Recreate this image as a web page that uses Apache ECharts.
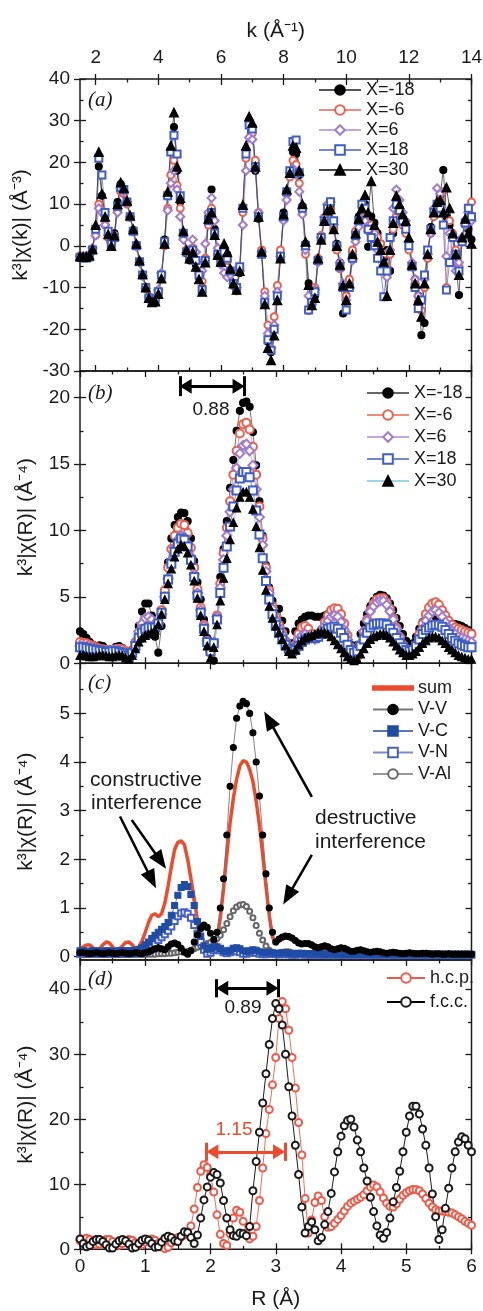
<!DOCTYPE html>
<html>
<head>
<meta charset="utf-8">
<script src="https://cdn.jsdelivr.net/npm/echarts@6.0.0/dist/echarts.min.js"></script>
<style>
  html, body { margin: 0; padding: 0; background: #fff; }
  #chart { width: 483px; height: 1311px; }
</style>
</head>
<body>
<div id="chart"></div>
<script>
// tick labels
const kTicks = [2, 4, 6, 8, 10, 12, 14];
const kMinorTicks = [3, 5, 7, 9, 11, 13];
const rTicks = [0, 1, 2, 3, 4, 5, 6];
const rMinorTicks = [0.5, 1.5, 2.5, 3.5, 4.5, 5.5];
const yTicksA = [-30, -20, -10, 0, 10, 20, 30, 40];
const yMinorA = [-25, -15, -5, 5, 15, 25, 35];
const yTicksB = [0, 5, 10, 15, 20];
const yMinorB = [2.5, 7.5, 12.5, 17.5];
const yTicksC = [0, 1, 2, 3, 4, 5];
const yMinorC = [0.5, 1.5, 2.5, 3.5, 4.5, 5.5];
const yTicksD = [0, 10, 20, 30, 40];
const yMinorD = [5, 15, 25, 35];

// sampling grids: k = 1.5 .. 14 (step 0.1), R = 0 .. 6 (step 0.05)
const kGrid = Array.from({ length: 126 }, (_, i) => +(1.5 + i * 0.1).toFixed(1));
const rGrid = Array.from({ length: 121 }, (_, i) => +(i * 0.05).toFixed(2));

// (a) k^3 chi(k)
const aM18 = [-2.5,-2.6,-2.6,-2.3,-0.8,3.8,19.0,12.0,6.5,2.0,
  0.3,3.0,10.5,14.8,13.5,10.5,7.0,3.8,0.3,-3.8,
  -7.0,-10.3,-12.8,-13.6,-13.2,-11.2,-7.0,1.5,12.0,22.5,
  28.5,18.0,10.5,3.0,-1.8,-3.5,-2.5,-4.5,-7.5,-10.0,
  -3.0,7.0,13.5,4.0,-2.0,-3.5,-0.5,-2.0,-6.0,-9.5,
  -10.8,-6.5,9.0,23.0,29.5,28.0,18.0,6.5,-2.0,-13.5,
  -23.0,-25.5,-20.0,-12.0,-2.0,8.0,13.0,17.0,22.5,22.0,
  17.0,9.5,0.5,-9.0,-13.5,-12.0,-3.5,2.0,6.5,9.5,
  9.0,4.5,0.5,-4.0,-16.2,-12.0,-8.5,-1.5,3.5,7.0,
  9.5,10.0,-0.2,7.0,5.5,3.0,0.5,-3.0,-1.0,-6.0,
  3.0,9.0,8.0,6.5,4.5,1.0,-5.0,-8.0,-12.0,-21.4,
  -18.5,-3.0,4.5,8.5,9.0,12.0,18.2,7.0,5.0,2.0,
  -4.0,-11.8,1.0,5.0,4.0,1.5];
const aM6 = [-2.4,-2.5,-2.5,-2.2,-0.8,2.5,10.0,8.5,5.0,2.0,
  0.5,2.5,8.5,13.0,12.5,10.0,6.8,3.5,0.0,-3.8,
  -7.0,-10.0,-12.2,-13.0,-12.8,-10.8,-7.0,0.0,9.0,17.0,
  20.5,14.5,9.0,3.0,-1.0,-2.5,-0.5,-3.5,-6.5,-8.5,
  -3.0,5.0,9.0,3.0,-2.5,-4.0,-2.0,-3.5,-6.5,-9.5,
  -10.8,-5.5,8.0,21.0,30.0,27.0,20.5,8.0,-1.0,-11.0,
  -19.0,-21.0,-17.0,-9.5,-1.0,7.0,12.5,16.5,20.5,19.5,
  15.0,8.5,-2.0,-15.5,-13.0,-10.0,-3.0,2.5,6.5,8.0,
  8.5,4.0,-1.0,-5.5,-10.0,-12.0,-8.0,-1.0,3.5,5.5,
  6.5,7.0,4.0,5.0,3.5,2.0,0.5,-2.0,-5.0,-2.0,
  4.0,7.0,6.5,5.0,3.0,-1.0,-5.0,-9.0,-13.5,-15.5,
  -10.0,-3.0,3.0,7.0,9.0,11.0,13.0,-10.0,6.0,3.0,
  -1.0,-5.0,1.0,6.0,8.0,10.5];
const aP6 = [-2.5,-2.6,-2.5,-2.1,-0.5,2.5,9.0,8.0,5.0,2.5,
  0.8,2.0,8.0,13.5,13.0,10.5,7.0,3.5,-0.2,-4.0,
  -7.2,-10.2,-12.3,-12.8,-12.5,-10.5,-6.5,0.5,8.5,15.0,
  18.0,13.5,7.0,1.5,-1.5,-1.0,1.5,-1.5,-4.5,-6.0,
  0.5,8.0,11.5,6.0,-0.5,-4.5,-6.5,-7.5,-7.0,-9.0,
  -10.0,-6.0,5.0,18.0,26.0,25.5,18.5,8.0,-1.5,-12.0,
  -21.0,-24.5,-19.0,-11.0,-2.5,6.0,11.0,17.5,18.5,17.0,
  13.0,7.5,-1.0,-12.0,-14.0,-10.5,-4.0,2.0,7.0,10.0,
  10.5,5.0,0.0,-4.0,-9.0,-13.0,-10.0,-3.5,1.0,4.5,
  6.5,6.0,3.5,4.0,3.0,-1.0,-3.0,-5.0,-7.5,-1.0,
  9.0,13.5,11.0,8.0,6.0,1.0,-4.0,-8.0,-12.0,-13.0,
  -8.0,-2.0,3.0,9.0,13.8,12.5,8.0,-2.5,3.0,-4.0,
  -6.0,-4.0,2.0,5.0,8.0,6.0];
const aP18 = [-2.8,-2.9,-2.9,-2.6,-1.0,4.0,21.0,17.0,8.0,3.5,
  0.5,2.0,9.5,14.0,13.5,10.5,7.0,3.5,0.0,-3.8,
  -7.0,-10.0,-12.5,-13.5,-13.2,-11.0,-7.0,1.0,12.0,22.5,
  26.5,22.0,12.0,3.0,-1.5,-3.0,-1.0,-3.5,-7.0,-10.5,
  -3.5,6.0,8.0,3.0,-2.0,-4.0,-1.5,-3.0,-6.0,-9.0,
  -10.0,-5.0,9.0,22.0,29.0,28.0,19.0,7.0,-2.0,-13.5,
  -22.5,-25.0,-20.0,-12.0,-2.5,7.0,13.0,18.0,25.0,25.4,
  17.5,9.0,0.0,-15.4,-13.5,-11.0,-3.5,2.0,6.0,9.0,
  10.6,6.0,0.0,-5.0,-10.0,-15.4,-10.0,-3.0,2.5,6.0,
  10.0,9.0,4.0,2.0,0.0,-3.0,-6.0,-12.2,-6.0,2.0,
  6.0,10.0,8.5,6.0,4.0,0.0,-5.0,-10.0,-15.0,-13.0,
  -7.0,-1.0,4.0,8.0,10.0,9.0,5.0,-10.6,-4.0,2.0,
  -2.0,-6.0,1.0,5.5,9.0,7.0];
const aP30 = [-2.5,-2.6,-2.6,-2.3,-0.8,5.0,22.5,12.5,7.0,2.8,
  0.0,2.5,10.0,15.2,13.8,10.8,7.3,4.0,0.5,-3.5,
  -6.8,-10.0,-12.5,-13.5,-13.3,-11.5,-7.8,0.5,13.0,24.0,
  32.0,19.0,11.5,3.5,-1.0,-3.0,-1.5,-5.0,-8.0,-11.0,
  -4.0,6.5,8.0,2.6,-2.2,-3.8,0.5,-1.5,-5.5,-9.0,
  -10.5,-6.0,9.8,24.0,31.0,29.5,19.0,7.0,-1.4,-14.0,
  -24.5,-27.4,-21.5,-13.0,-3.0,7.5,13.5,17.5,24.0,23.5,
  18.0,10.0,1.0,-9.4,-14.2,-12.5,-3.0,1.5,6.0,8.5,
  8.8,4.0,0.0,-4.5,-9.5,-13.0,-9.0,-2.0,3.0,6.5,
  9.0,12.2,8.0,15.5,5.0,1.0,-1.0,-3.8,-12.0,-1.0,
  5.5,12.0,10.0,7.5,6.0,2.0,-4.5,-9.0,-13.0,-17.0,
  -9.0,-2.0,4.0,8.0,10.5,11.0,8.0,14.0,9.0,3.0,
  -2.0,-7.0,2.0,6.5,3.0,0.5];

// (b) k^3 chi(R)
const bM18 = [2.4,2.2,1.9,1.6,1.4,1.3,1.35,1.3,1.1,1.0,
  1.1,1.25,1.3,1.15,0.8,0.5,0.7,1.6,2.8,3.9,
  4.5,4.5,3.6,2.0,0.8,2.8,5.5,7.6,9.4,10.4,
  11.0,11.35,11.3,10.7,9.4,7.7,6.1,4.8,3.3,1.9,
  0.8,0.2,3.5,6.5,8.6,10.7,13.2,15.3,17.5,19.0,
  19.6,19.7,19.3,17.4,14.9,12.2,9.6,7.4,5.7,4.7,
  4.1,4.1,3.2,2.4,1.5,1.5,2.4,3.0,3.3,3.5,
  3.6,3.6,3.5,3.5,3.5,3.6,3.7,3.8,3.8,3.5,
  3.2,2.6,2.0,1.4,1.1,1.4,2.2,3.0,3.7,4.3,
  4.7,5.0,5.15,5.1,4.9,4.5,4.0,3.4,2.8,2.2,
  1.7,1.4,1.5,2.0,2.6,3.1,3.5,3.7,3.7,3.5,
  3.2,3.0,3.0,3.0,3.0,2.95,2.9,2.8,2.65,2.5,
  2.3];
const bM6 = [1.6,1.55,1.5,1.4,1.3,1.2,1.1,1.05,1.0,1.0,
  1.0,1.05,1.1,1.05,0.9,0.8,1.0,1.6,2.3,2.9,
  3.3,3.3,3.0,2.8,3.0,4.0,5.5,7.2,8.6,9.6,
  10.2,10.5,10.4,9.8,8.7,7.2,5.6,4.2,2.9,1.7,
  0.8,1.5,3.6,6.0,8.3,10.2,12.2,14.2,16.0,17.3,
  18.0,18.1,17.6,16.3,14.2,11.8,9.4,7.2,5.5,4.3,
  3.5,2.9,2.3,1.7,1.2,1.0,1.4,2.2,2.7,2.8,
  2.6,2.2,1.9,2.0,2.5,3.1,3.6,4.0,4.15,4.1,
  3.7,3.0,2.1,1.2,0.5,0.5,1.4,2.4,3.3,4.0,
  4.5,4.8,4.9,4.9,4.6,4.1,3.4,2.7,2.0,1.4,
  0.9,0.7,0.8,1.4,2.2,3.0,3.7,4.2,4.5,4.6,
  4.4,4.0,3.6,3.2,2.9,2.7,2.6,2.5,2.4,2.3,
  2.2];
const bP6 = [1.3,1.3,1.25,1.2,1.1,1.0,0.95,0.9,0.9,0.95,
  1.0,1.0,0.95,0.85,0.7,0.6,0.9,1.6,2.4,3.0,
  3.4,3.5,3.3,3.0,3.0,3.7,5.0,6.4,7.7,8.7,
  9.3,9.6,9.5,9.0,8.0,6.7,5.3,4.0,2.8,1.7,
  0.9,1.6,3.5,5.7,7.8,9.6,11.4,13.1,14.7,15.8,
  16.4,16.5,16.0,14.9,13.1,11.0,8.9,6.9,5.3,4.1,
  3.3,2.7,2.2,1.7,1.3,1.1,1.3,1.8,2.1,2.2,
  2.1,1.9,1.8,1.9,2.3,2.8,3.2,3.5,3.6,3.5,
  3.1,2.5,1.8,1.1,0.7,0.8,1.5,2.4,3.2,3.9,
  4.3,4.6,4.7,4.7,4.4,3.9,3.3,2.6,2.0,1.4,
  1.0,0.7,0.8,1.2,1.9,2.6,3.2,3.6,3.9,4.0,
  3.8,3.5,3.1,2.7,2.4,2.2,2.0,1.9,1.8,1.7,
  1.6];
const bP18 = [1.2,1.2,1.15,1.1,1.05,1.0,0.95,0.9,0.85,0.85,
  0.9,0.9,0.85,0.75,0.6,0.5,0.8,1.3,1.9,2.3,
  2.6,2.7,2.7,2.7,3.0,3.8,5.0,6.3,7.5,8.4,
  9.0,9.4,9.3,8.8,7.8,6.5,5.1,3.8,2.6,1.6,
  0.9,1.5,3.3,5.3,7.2,8.8,10.3,11.8,13.0,13.9,
  14.4,14.4,14.0,13.0,11.5,9.7,7.9,6.2,4.8,3.7,
  2.9,2.3,1.8,1.4,1.1,0.9,1.0,1.3,1.6,1.8,
  1.9,1.9,1.9,2.0,2.2,2.4,2.6,2.7,2.75,2.6,
  2.3,1.9,1.4,1.0,0.8,0.9,1.3,1.8,2.3,2.7,
  2.9,3.0,3.0,3.0,2.9,2.6,2.3,1.9,1.5,1.2,
  1.0,0.9,1.0,1.3,1.8,2.2,2.5,2.7,2.85,2.9,
  2.9,2.75,2.5,2.2,1.9,1.7,1.5,1.4,1.3,1.2,
  1.2];
const bP30 = [0.6,0.6,0.55,0.5,0.5,0.55,0.6,0.6,0.55,0.5,
  0.5,0.55,0.6,0.55,0.4,0.3,0.6,1.1,1.6,1.9,
  2.1,2.2,2.3,2.5,2.9,3.7,4.8,6.0,7.1,8.0,
  8.6,8.9,8.8,8.3,7.4,6.2,4.9,3.6,2.4,1.3,
  0.4,1.2,2.9,4.7,6.4,7.9,9.3,10.6,11.7,12.5,
  12.9,12.9,12.5,11.6,10.3,8.7,7.0,5.5,4.3,3.4,
  2.8,2.3,1.8,1.3,0.9,0.7,1.0,1.4,1.7,1.9,
  2.0,2.1,2.2,2.3,2.3,2.3,2.2,2.0,1.7,1.4,
  1.1,0.8,0.5,0.3,0.2,0.3,0.7,1.1,1.5,1.8,
  2.0,2.1,2.2,2.2,2.1,1.9,1.6,1.3,1.0,0.8,
  0.6,0.6,0.7,0.9,1.2,1.5,1.7,1.9,2.0,2.0,
  1.9,1.7,1.5,1.2,1.0,0.8,0.6,0.5,0.4,0.3,
  0.3];

// (c) path contributions
const cSum = [0.15,0.2,0.24,0.24,0.18,0.13,0.16,0.24,0.3,0.28,
  0.2,0.13,0.15,0.22,0.29,0.3,0.24,0.16,0.2,0.32,
  0.5,0.7,0.85,0.88,0.82,0.88,1.1,1.45,1.85,2.2,
  2.35,2.38,2.3,2.0,1.6,1.2,0.75,0.32,0.08,0.03,
  0.04,0.1,0.35,0.8,1.4,2.1,2.75,3.25,3.65,3.92,
  4.03,4.0,3.85,3.6,3.2,2.7,2.1,1.45,0.85,0.4,
  0.25,0.32,0.38,0.4,0.4,0.37,0.32,0.27,0.24,0.24,
  0.23,0.2,0.17,0.15,0.16,0.18,0.16,0.13,0.12,0.13,
  0.14,0.13,0.11,0.09,0.09,0.1,0.11,0.1,0.08,0.07,
  0.08,0.09,0.08,0.07,0.06,0.07,0.07,0.06,0.05,0.05,
  0.06,0.06,0.05,0.05,0.05,0.06,0.05,0.05,0.04,0.05,
  0.05,0.04,0.04,0.05,0.04,0.04,0.04,0.04,0.04,0.04,
  0.04];
const cVV = [0.08,0.08,0.07,0.06,0.07,0.08,0.07,0.06,0.07,0.08,
  0.07,0.06,0.07,0.08,0.07,0.06,0.07,0.08,0.07,0.06,
  0.08,0.10,0.13,0.16,0.18,0.16,0.14,0.20,0.26,0.28,
  0.25,0.17,0.09,0.05,0.12,0.30,0.45,0.58,0.65,0.60,
  0.48,0.35,0.50,1.00,1.60,2.50,3.50,4.30,4.90,5.15,
  5.25,5.20,5.00,4.60,4.00,3.30,2.50,1.70,1.00,0.50,
  0.30,0.36,0.40,0.42,0.41,0.38,0.33,0.28,0.26,0.27,
  0.27,0.24,0.20,0.18,0.20,0.22,0.20,0.16,0.14,0.16,
  0.18,0.17,0.14,0.11,0.11,0.13,0.14,0.12,0.10,0.09,
  0.10,0.11,0.10,0.08,0.07,0.08,0.09,0.08,0.07,0.06,
  0.07,0.08,0.07,0.06,0.06,0.07,0.07,0.06,0.05,0.06,
  0.06,0.05,0.05,0.06,0.05,0.05,0.05,0.05,0.05,0.05,
  0.05];
const cVC = [0.12,0.12,0.11,0.11,0.12,0.12,0.11,0.11,0.12,0.12,
  0.11,0.11,0.12,0.12,0.12,0.12,0.12,0.13,0.14,0.18,
  0.24,0.30,0.37,0.44,0.50,0.56,0.62,0.70,0.85,1.05,
  1.26,1.42,1.48,1.44,1.28,1.05,0.72,0.42,0.22,0.15,
  0.17,0.20,0.20,0.17,0.12,0.10,0.13,0.17,0.18,0.16,
  0.12,0.10,0.12,0.14,0.13,0.10,0.08,0.08,0.09,0.08,
  0.07,0.07,0.08,0.08,0.07,0.06,0.06,0.07,0.07,0.06,
  0.06,0.06,0.06,0.06,0.06,0.05,0.05,0.06,0.06,0.05,
  0.05,0.05,0.05,0.05,0.05,0.05,0.05,0.05,0.05,0.05,
  0.05,0.05,0.04,0.05,0.05,0.05,0.04,0.05,0.05,0.04,
  0.05,0.05,0.04,0.04,0.05,0.04,0.04,0.05,0.04,0.04,
  0.04,0.04,0.04,0.04,0.04,0.04,0.04,0.04,0.04,0.04,
  0.04];
const cVN = [0.06,0.06,0.06,0.06,0.06,0.06,0.06,0.06,0.06,0.06,
  0.06,0.06,0.06,0.06,0.06,0.06,0.06,0.07,0.07,0.07,
  0.08,0.12,0.18,0.26,0.34,0.40,0.46,0.53,0.62,0.73,
  0.83,0.89,0.91,0.88,0.80,0.65,0.47,0.30,0.14,0.06,
  0.08,0.13,0.15,0.13,0.09,0.07,0.09,0.11,0.11,0.09,
  0.06,0.06,0.08,0.09,0.08,0.06,0.05,0.05,0.06,0.06,
  0.05,0.05,0.05,0.05,0.05,0.04,0.04,0.05,0.05,0.04,
  0.04,0.04,0.04,0.04,0.04,0.04,0.04,0.04,0.04,0.04,
  0.04,0.04,0.04,0.04,0.04,0.04,0.04,0.04,0.04,0.04,
  0.04,0.04,0.04,0.04,0.04,0.04,0.04,0.04,0.04,0.04,
  0.04,0.04,0.04,0.04,0.04,0.04,0.04,0.04,0.04,0.04,
  0.04,0.04,0.04,0.04,0.04,0.04,0.04,0.04,0.04,0.04,
  0.04];
const cVAl = [0.05,0.05,0.05,0.05,0.05,0.05,0.05,0.05,0.05,0.05,
  0.05,0.05,0.05,0.05,0.05,0.05,0.05,0.05,0.05,0.05,
  0.05,0.05,0.05,0.05,0.06,0.06,0.06,0.07,0.07,0.08,
  0.09,0.10,0.10,0.11,0.13,0.16,0.19,0.22,0.25,0.27,
  0.29,0.32,0.37,0.44,0.55,0.68,0.82,0.94,1.02,1.06,
  1.07,1.03,0.93,0.80,0.64,0.48,0.34,0.22,0.13,0.08,
  0.06,0.07,0.09,0.10,0.10,0.08,0.07,0.06,0.06,0.05,
  0.05,0.06,0.06,0.05,0.05,0.05,0.05,0.05,0.05,0.05,
  0.05,0.05,0.05,0.05,0.05,0.05,0.05,0.05,0.05,0.05,
  0.05,0.05,0.05,0.05,0.05,0.05,0.05,0.05,0.05,0.05,
  0.05,0.05,0.05,0.05,0.05,0.05,0.05,0.05,0.05,0.05,
  0.05,0.05,0.05,0.05,0.05,0.05,0.05,0.05,0.05,0.05,
  0.05];

// (d) h.c.p. vs f.c.c.
const dHcp = [1.3,1.6,1.7,1.5,1.1,0.7,0.8,1.2,1.5,1.5,
  1.2,0.7,0.6,0.9,1.3,1.5,1.4,1.0,0.6,0.7,
  1.1,1.5,1.6,1.4,0.9,0.4,0.1,0.3,1.0,1.6,
  1.8,1.9,2.2,2.6,3.6,6.2,9.5,12.0,13.0,12.6,
  11.4,8.8,5.3,2.3,0.9,0.6,2.4,4.8,6.0,5.7,
  4.3,2.5,1.6,2.0,3.5,7.5,12.5,17.8,21.5,25.3,
  29.5,35.5,38.1,37.0,33.7,29.5,24.8,19.5,14.5,7.8,
  2.5,4.5,7.2,8.2,7.5,5.0,3.4,3.5,4.0,4.6,
  5.2,5.9,6.6,7.1,7.4,7.7,8.0,8.4,9.0,9.6,
  9.9,9.6,8.8,7.9,7.1,6.6,6.5,7.0,7.7,8.3,
  8.7,9.0,9.2,9.2,9.0,8.5,7.8,7.1,6.5,6.1,
  5.9,5.9,5.8,5.7,5.6,5.3,5.0,4.7,4.3,4.0,
  3.7];
const dFcc = [1.6,0.9,0.4,0.6,1.2,1.5,1.5,1.2,0.7,0.2,
  0.2,0.8,1.3,1.5,1.3,0.8,0.2,0.3,0.9,1.4,
  1.6,1.4,0.9,0.3,0.4,1.1,1.7,2.0,1.8,1.3,
  1.2,2.0,2.7,2.6,1.8,0.9,2.2,4.8,7.6,9.6,
  11.1,11.8,11.5,10.2,7.5,4.8,3.0,2.1,2.0,2.5,
  2.4,2.1,3.5,9.0,13.5,18.0,22.5,27.0,31.5,35.5,
  37.8,37.0,34.5,30.0,25.0,20.5,16.0,11.5,6.5,2.5,
  3.5,4.2,3.0,1.3,1.8,3.8,5.8,8.6,11.9,15.0,
  17.4,19.0,19.8,20.0,18.8,16.8,15.0,12.5,10.5,8.0,
  5.8,3.6,2.2,1.7,2.6,4.8,7.3,9.5,12.0,15.0,
  18.0,20.5,22.0,22.0,20.8,18.5,16.0,12.5,8.5,5.0,
  1.5,3.0,6.3,9.4,12.5,15.0,16.5,17.3,17.0,16.0,
  15.0];

const FONT = '"Liberation Sans", Arial, sans-serif';
const INK = '#1a1a1a';
const RED = '#ee4a2c';

const panels = [
  { top: 79, height: 292, xMin: 1.5, xMax: 14, xTicks: kTicks, xMinor: kMinorTicks,
    yMin: -30, yMax: 40, yTicks: yTicksA, yMinor: yMinorA, yName: 'k³|χ(k)| (Å⁻³)', topLabels: true },
  { top: 371, height: 292.3, xMin: 0, xMax: 6, xTicks: rTicks, xMinor: rMinorTicks,
    yMin: 0, yMax: 22, yTicks: yTicksB, yMinor: yMinorB, yName: 'k³|χ(R)| (Å⁻⁴)' },
  { top: 663.3, height: 296.7, xMin: 0, xMax: 6, xTicks: rTicks, xMinor: rMinorTicks,
    yMin: -0.07, yMax: 6.03, yTicks: yTicksC, yMinor: yMinorC, yName: 'k³|χ(R)| (Å⁻⁴)' },
  { top: 960, height: 289.3, xMin: 0, xMax: 6, xTicks: rTicks, xMinor: rMinorTicks,
    yMin: 0, yMax: 44.5, yTicks: yTicksD, yMinor: yMinorD, yName: 'k³|χ(R)| (Å⁻⁴)', bottomLabels: true }
];

const xAxes = [];
const yAxes = [];

function tickAxis(list, o) {
  list.push({
    type: 'value', gridIndex: o.grid, position: o.pos, min: o.min, max: o.max,
    axisLine: { show: false, onZero: false },
    splitLine: { show: false },
    minorTick: { show: false },
    axisTick: { show: true, inside: o.inside, length: o.len, customValues: o.ticks,
      lineStyle: { color: INK, width: 1.3 } },
    axisLabel: o.labels
      ? { show: true, customValues: o.ticks, margin: o.margin, color: INK, fontSize: 19, fontFamily: FONT }
      : { show: false },
    name: o.name || '',
    nameLocation: 'middle',
    nameGap: o.nameGap || 0,
    nameRotate: o.nameRotate,
    nameTextStyle: { color: INK, fontSize: 21, fontFamily: FONT }
  });
  return list.length - 1;
}

panels.forEach((p, g) => {
  const xs = { grid: g, min: p.xMin, max: p.xMax };
  p.xi = tickAxis(xAxes, { ...xs, pos: 'bottom', inside: true, len: 6, ticks: p.xTicks });
  tickAxis(xAxes, { ...xs, pos: 'bottom', inside: true, len: 3.5, ticks: p.xMinor });
  tickAxis(xAxes, { ...xs, pos: 'top', inside: true, len: 6, ticks: p.xTicks });
  tickAxis(xAxes, { ...xs, pos: 'top', inside: true, len: 3.5, ticks: p.xMinor });
  if (p.topLabels) {
    tickAxis(xAxes, { ...xs, pos: 'top', inside: false, len: 5, ticks: p.xTicks, labels: true,
      margin: 12, name: 'k (Å⁻¹)', nameGap: 37 });
  }
  if (p.bottomLabels) {
    tickAxis(xAxes, { ...xs, pos: 'bottom', inside: false, len: 5, ticks: p.xTicks, labels: true,
      margin: 8, name: 'R (Å)', nameGap: 39 });
  }
  const ys = { grid: g, min: p.yMin, max: p.yMax };
  p.yi = tickAxis(yAxes, { ...ys, pos: 'left', inside: true, len: 6, ticks: p.yTicks });
  tickAxis(yAxes, { ...ys, pos: 'left', inside: true, len: 3.5, ticks: p.yMinor });
  tickAxis(yAxes, { ...ys, pos: 'left', inside: false, len: 6, ticks: p.yTicks, labels: true,
    margin: 10, name: p.yName, nameGap: 43, nameRotate: 90 });
  tickAxis(yAxes, { ...ys, pos: 'right', inside: true, len: 6, ticks: p.yTicks });
  tickAxis(yAxes, { ...ys, pos: 'right', inside: true, len: 3.5, ticks: p.yMinor });
});

const series = [];
function addLine(p, name, xs, ys, st) {
  const s = {
    type: 'line', name, xAxisIndex: p.xi, yAxisIndex: p.yi,
    data: xs.map((x, i) => [x, ys[i]]),
    symbol: st.symbol || 'none',
    symbolSize: st.size || 6,
    showSymbol: (st.symbol || 'none') !== 'none',
    lineStyle: { color: st.line, width: st.lw || 0.9 },
    itemStyle: { color: st.color, borderColor: st.color, borderWidth: st.bw || 1.1 },
    emphasis: { disabled: true },
    animation: false,
    silent: true
  };
  series.push(s);
  return s;
}

const [pa, pb, pc, pd] = panels;
// panel (a)
addLine(pa, 'a|X=-18', kGrid, aM18, { symbol: 'circle', size: 7, color: '#000', line: '#555' });
addLine(pa, 'a|X=-6', kGrid, aM6, { symbol: 'emptyCircle', size: 7, color: '#e8604f', line: '#f08c7e' });
addLine(pa, 'a|X=6', kGrid, aP6, { symbol: 'emptyDiamond', size: 8, color: '#a07bcf', line: '#c2a7df' });
addLine(pa, 'a|X=18', kGrid, aP18, { symbol: 'emptyRect', size: 7, color: '#3f5fc4', line: '#7288d4' });
addLine(pa, 'a|X=30', kGrid, aP30, { symbol: 'triangle', size: 9, color: '#000', line: '#444' });

// panel (b)
const sB = addLine(pb, 'b|X=-18', rGrid, bM18, { symbol: 'circle', size: 7, color: '#000', line: '#666' });
addLine(pb, 'b|X=-6', rGrid, bM6, { symbol: 'emptyCircle', size: 8, color: '#e8604f', line: '#f08c7e' });
addLine(pb, 'b|X=6', rGrid, bP6, { symbol: 'emptyDiamond', size: 9, color: '#a07bcf', line: '#c2a7df' });
addLine(pb, 'b|X=18', rGrid, bP18, { symbol: 'emptyRect', size: 8, color: '#3f5fc4', line: '#7288d4' });
addLine(pb, 'b|X=30', rGrid, bP30, { symbol: 'triangle', size: 8, color: '#000', line: '#9ad6e6' });

// panel (c)
addLine(pc, 'c|sum', rGrid, cSum, { symbol: 'none', color: RED, line: RED, lw: 3.5 });
addLine(pc, 'c|V-Al', rGrid, cVAl, { symbol: 'emptyCircle', size: 5, color: '#666', line: '#999' });
addLine(pc, 'c|V-N', rGrid, cVN, { symbol: 'emptyRect', size: 6, color: '#4560c2', line: '#7a8cc8' });
addLine(pc, 'c|V-C', rGrid, cVC, { symbol: 'rect', size: 6, color: '#1f4da6', line: '#5a78b8' });
const sC = addLine(pc, 'c|V-V', rGrid, cVV, { symbol: 'circle', size: 6, color: '#000', line: '#777' });

// panel (d)
addLine(pd, 'd|h.c.p.', rGrid, dHcp, { symbol: 'emptyCircle', size: 7, color: '#ef5a48', line: '#ef5a48' });
const sD = addLine(pd, 'd|f.c.c.', rGrid, dFcc, { symbol: 'emptyCircle', size: 7, color: '#1a1a1a', line: '#000' });

// annotation helpers (data coordinates)
function dblArrow(x1, x2, y, bar, inset, color) {
  const ls = { color, width: 3, type: 'solid' };
  const is = { color };
  return [
    [{ coord: [x1 + inset, y], symbol: 'triangle', lineStyle: ls, itemStyle: is },
     { coord: [x2 - inset, y], symbol: 'triangle', lineStyle: ls, itemStyle: is }],
    [{ coord: [x1, y - bar], symbol: 'none', lineStyle: ls }, { coord: [x1, y + bar], symbol: 'none', lineStyle: ls }],
    [{ coord: [x2, y - bar], symbol: 'none', lineStyle: ls }, { coord: [x2, y + bar], symbol: 'none', lineStyle: ls }]
  ];
}
function oneArrow(from, to) {
  const ls = { color: '#000', width: 2.5, type: 'solid' };
  return [{ coord: from, symbol: 'none', lineStyle: ls },
    { coord: to, symbol: 'triangle', lineStyle: ls, itemStyle: { color: '#000' } }];
}
function markLines(data, size) {
  return { silent: true, animation: false, symbolSize: size, label: { show: false },
    emphasis: { disabled: true }, lineStyle: { color: '#000', width: 3, type: 'solid' }, data };
}

sB.markLine = markLines(dblArrow(1.53, 2.52, 20.86, 0.75, 0.09, '#000'), [15, 12]);
sC.markLine = markLines([
  oneArrow([0.613, 2.88], [1.10, 1.58]),
  oneArrow([0.793, 2.81], [1.235, 1.965]),
  oneArrow([3.553, 3.285], [2.894, 4.87]),
  oneArrow([3.553, 2.09], [3.187, 1.242])
], [15, 19]);
sD.markLine = markLines([
  ...dblArrow(2.09, 3.04, 40.15, 1.4, 0.09, '#000'),
  ...dblArrow(1.94, 3.14, 15.0, 1.4, 0.09, RED)
], [15, 12]);

function legendFor(prefix, names, left, top, itemWidth, gap, extra) {
  return {
    orient: 'vertical', left, top, padding: 0, itemWidth, itemHeight: 12, itemGap: gap,
    selectedMode: false, inactiveColor: INK,
    data: names.map(n => (extra && extra[n]) ? { name: prefix + n, ...extra[n] } : prefix + n),
    formatter: n => n.split('|')[1],
    textStyle: { color: INK, fontSize: 18, fontFamily: FONT, lineHeight: 18 }
  };
}

const legends = [
  legendFor('a|', ['X=-18', 'X=-6', 'X=6', 'X=18', 'X=30'], 318, 81, 42, 2),
  legendFor('b|', ['X=-18', 'X=-6', 'X=6', 'X=18', 'X=30'], 366, 384, 42, 4),
  legendFor('c|', ['sum', 'V-V', 'V-C', 'V-N', 'V-Al'], 372, 679, 40, 3.5,
    { 'sum': { icon: 'path://M0 0 H40 V3.5 H0 Z' } }),
  legendFor('d|', ['h.c.p.', 'f.c.c.'], 386, 969, 38, 6)
];

function txt(text, x, y, o = {}) {
  return {
    type: 'text', x, y, silent: true,
    style: {
      text, fill: o.color || INK, align: o.align || 'left', verticalAlign: 'middle',
      font: o.font || ('19px ' + FONT)
    }
  };
}
const serif = 'italic 21px "Liberation Serif", "Times New Roman", serif';
const annot = '21px ' + FONT;
const graphics = [
  txt('(a)', 88, 100, { font: serif }),
  txt('(b)', 88, 393, { font: serif }),
  txt('(c)', 88, 683, { font: serif }),
  txt('(d)', 88, 979, { font: serif }),
  txt('0.88', 211, 410, { align: 'center' }),
  txt('0.89', 243, 1008, { align: 'center' }),
  txt('1.15', 234, 1130, { align: 'center', color: RED }),
  txt('constructive', 90, 780, { font: annot }),
  txt('interference', 91, 803, { font: annot }),
  txt('destructive', 315, 818, { font: annot }),
  txt('interference', 315, 842, { font: annot })
];

const chart = echarts.init(document.getElementById('chart'), null, { renderer: 'canvas' });
chart.setOption({
  backgroundColor: '#fff',
  animation: false,
  grid: panels.map(p => ({
    left: 80, right: 11.5, top: p.top, height: p.height,
    show: true, borderColor: INK, borderWidth: 1.5, backgroundColor: 'transparent',
    containLabel: false, outerBoundsMode: 'none'
  })),
  xAxis: xAxes,
  yAxis: yAxes,
  legend: legends,
  series,
  graphic: graphics
});
</script>
</body>
</html>
